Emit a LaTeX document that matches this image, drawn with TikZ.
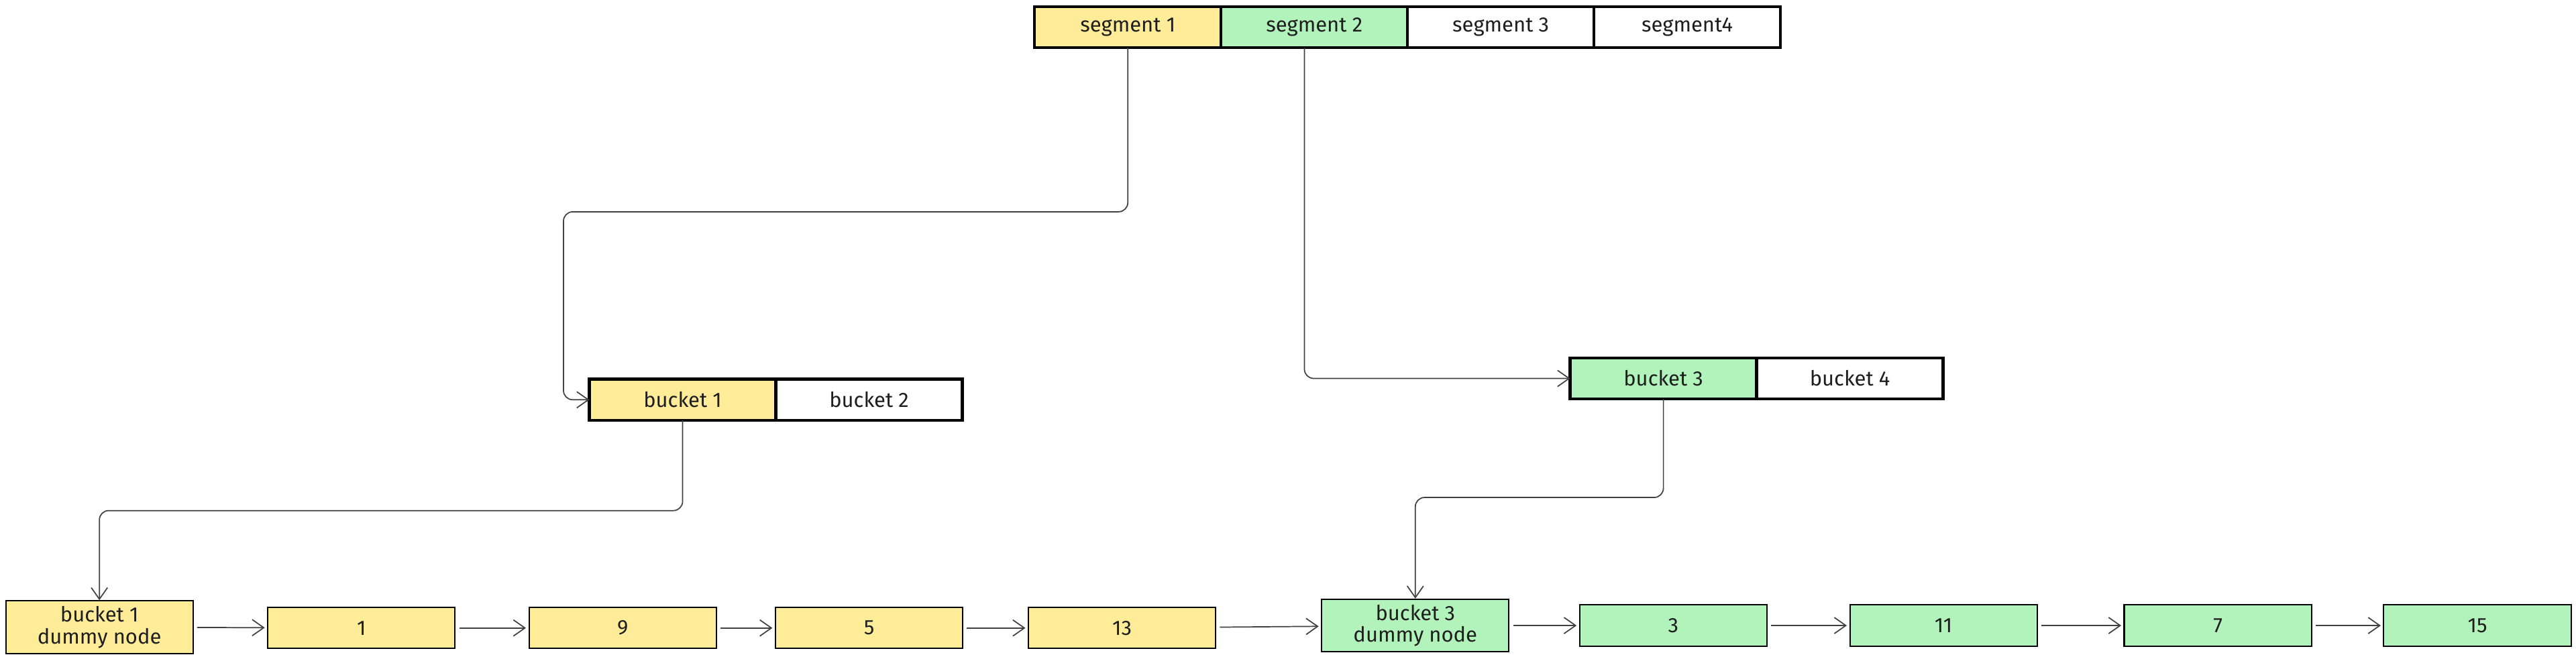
\documentclass[tikz,border=0pt]{standalone}
\usepackage{fontspec}
\setmainfont{Fira Sans}
\usetikzlibrary{arrows.meta}
\definecolor{yel}{HTML}{FFEC99}
\definecolor{grn}{HTML}{B2F2BB}
\definecolor{ink}{HTML}{1E1E1E}

\begin{document}
\begin{tikzpicture}[x=0.025cm,y=-0.025cm,font=\fontsize{9}{10}\selectfont,text=ink,
    slotbox/.style={draw=black,line width=1.3pt,minimum width=2.8375cm,minimum height=0.625cm,inner sep=0pt,outer sep=0pt},
    listbox/.style={draw=black,line width=0.6pt,minimum width=2.85cm,minimum height=0.625cm,inner sep=0pt},
    dummybox/.style={listbox,minimum height=0.8cm,align=center,font=\fontsize{9}{9.5}\selectfont},
    link/.style={draw=ink!85,line width=0.5pt,rounded corners=4pt,-{Straight Barb[length=5pt,width=7pt]}},
    every edge/.style={link,shorten <=1.5pt,shorten >=1pt}]
    \useasboundingbox (0,0) rectangle (1568,401);
    % segments
    \node[slotbox,fill=yel] (seg1) at (686.5,16.5) {segment 1};
    \node[slotbox,fill=grn] (seg2) at (800,16.5) {segment 2};
    \node[slotbox] (seg3) at (913.5,16.5) {segment 3};
    \node[slotbox] (seg4) at (1027,16.5) {segment4};
    % buckets
    \node[slotbox,fill=yel] (b1) at (415.5,243.5) {bucket 1};
    \node[slotbox] (b2) at (529,243.5) {bucket 2};
    \node[slotbox,fill=grn] (b3) at (1012.5,230.5) {bucket 3};
    \node[slotbox] (b4) at (1126,230.5) {bucket 4};
    % list
    \node[dummybox,fill=yel] (d1) at (60.5,382) {bucket 1\\dummy node};
    \node[listbox,fill=yel] (n1) at (220,382.5) {1};
    \node[listbox,fill=yel] (n9) at (379,382.5) {9};
    \node[listbox,fill=yel] (n5) at (529,382.5) {5};
    \node[listbox,fill=yel] (n13) at (683,382.5) {13};
    \node[dummybox,fill=grn] (d3) at (861.5,381) {bucket 3\\dummy node};
    \node[listbox,fill=grn] (n3) at (1018.5,381) {3};
    \node[listbox,fill=grn] (n11) at (1183,381) {11};
    \node[listbox,fill=grn] (n7) at (1350,381) {7};
    \node[listbox,fill=grn] (n15) at (1508,381) {15};
    \draw[link] (seg1.south) |- (343,129) |- (b1.west);
    \draw[link] ([xshift=-0.15cm]seg2.south) |- (b3.west);
    \draw[link] (b1.south) -- ++(0,55) -| (d1.north);
    \draw[link] (b3.south) -- ++(0,60) -| (d3.north);
    \draw (d1) edge (n1) (n1) edge (n9) (n9) edge (n5) (n5) edge (n13);
    \draw (n13) edge (d3) (d3) edge (n3) (n3) edge (n11) (n11) edge (n7) (n7) edge (n15);
\end{tikzpicture}
\end{document}
